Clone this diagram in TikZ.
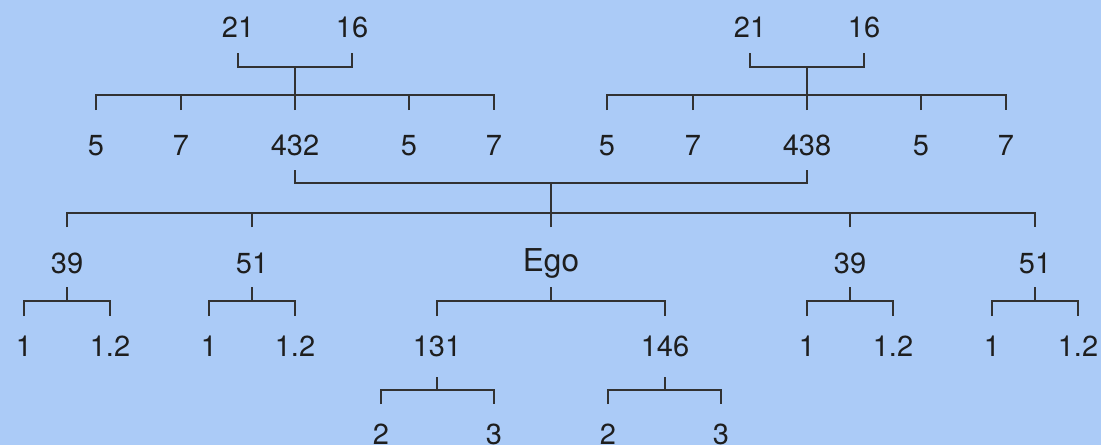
\documentclass[tikz,border=0pt]{standalone}
\usepackage{fontspec}
\setmainfont{TeX Gyre Heros}
\usetikzlibrary{calc}
\definecolor{bg}{RGB}{171,203,247}
\definecolor{ink}{RGB}{30,30,30}
\definecolor{wire}{RGB}{50,50,50}
\begin{document}
\begin{tikzpicture}[x=1pt,y=-1pt,
  lbl/.style={inner sep=0pt,anchor=center,text height=21pt,text depth=0pt,text=ink,font=\fontsize{29}{34}\selectfont},
  big/.style={lbl,text height=23pt,font=\fontsize{31.5}{36}\selectfont},
  wire/.style={draw=wire,line width=1.3pt}]
\fill[bg] (0,0) rectangle (1101,445);
\useasboundingbox (0,0) rectangle (1101,445);
% row 0
\node[lbl] (L21) at (238,27) {21};
\node[lbl] (L16) at (352,27) {16};
\node[lbl] (R21) at (750,27) {21};
\node[lbl] (R16) at (864,27) {16};
% row 1
\node[lbl] (La5) at (96,145) {5};
\node[lbl] (La7) at (181,145) {7};
\node[lbl] (F) at (295,145) {432};
\node[lbl] (Lb5) at (409,145) {5};
\node[lbl] (Lb7) at (494,145) {7};
\node[lbl] (Ra5) at (607,145) {5};
\node[lbl] (Ra7) at (693,145) {7};
\node[lbl] (M) at (807,145) {438};
\node[lbl] (Rb5) at (921,145) {5};
\node[lbl] (Rb7) at (1006,145) {7};
% row 2
\node[lbl] (A39) at (67,263) {39};
\node[lbl] (A51) at (252,263) {51};
\node[big] (Ego) at (551,260) {Ego};
\node[lbl] (B39) at (850,263) {39};
\node[lbl] (B51) at (1035,263) {51};
% row 3
\node[lbl] (A39a) at (24,346) {1};
\node[lbl] (A39b) at (110,346) {1.2};
\node[lbl] (A51a) at (209,346) {1};
\node[lbl] (A51b) at (295,346) {1.2};
\node[lbl] (S131) at (437,346) {131};
\node[lbl] (S146) at (665,346) {146};
\node[lbl] (B39a) at (807,346) {1};
\node[lbl] (B39b) at (893,346) {1.2};
\node[lbl] (B51a) at (992,346) {1};
\node[lbl] (B51b) at (1078,346) {1.2};
% row 4
\node[lbl] (G1) at (381,434) {2};
\node[lbl] (G2) at (494,434) {3};
\node[lbl] (H1) at (608,434) {2};
\node[lbl] (H2) at (721,434) {3};
% parents of 432
\draw[wire] ($(L21)+(0,26)$) |- ($(L16)+(0,40)$) -- ($(L16)+(0,26)$);
\draw[wire] ($(L21)!.5!(L16)+(0,40)$) -- ($(F)+(0,-50)$);
\draw[wire] ($(La5)+(0,-35)$) |- ($(Lb7)+(0,-50)$) -- ($(Lb7)+(0,-35)$);
\foreach \n in {La7,F,Lb5} \draw[wire] ($(\n)+(0,-35)$) -- ($(\n)+(0,-50)$);
% parents of 438
\draw[wire] ($(R21)+(0,26)$) |- ($(R16)+(0,40)$) -- ($(R16)+(0,26)$);
\draw[wire] ($(R21)!.5!(R16)+(0,40)$) -- ($(M)+(0,-50)$);
\draw[wire] ($(Ra5)+(0,-35)$) |- ($(Rb7)+(0,-50)$) -- ($(Rb7)+(0,-35)$);
\foreach \n in {Ra7,M,Rb5} \draw[wire] ($(\n)+(0,-35)$) -- ($(\n)+(0,-50)$);
% marriage 432 - 438
\draw[wire] ($(F)+(0,25)$) |- ($(M)+(0,38)$) -- ($(M)+(0,25)$);
\draw[wire] ($(F)!.5!(M)+(0,38)$) -- ($(A51)!(Ego)!(B39)+(0,-50)$);
\draw[wire] ($(A39)+(0,-36)$) |- ($(B51)+(0,-50)$) -- ($(B51)+(0,-36)$);
\foreach \n in {A51,B39} \draw[wire] ($(\n)+(0,-36)$) -- ($(\n)+(0,-50)$);
\draw[wire] ($(A51)!(Ego)!(B39)+(0,-36)$) -- ($(A51)!(Ego)!(B39)+(0,-50)$);
% row 2 -> row 3
\foreach \p/\a/\b in {A39/A39a/A39b, A51/A51a/A51b, B39/B39a/B39b, B51/B51a/B51b}{
  \draw[wire] ($(\p)+(0,24)$) -- ($(\p)+(0,38)$);
  \draw[wire] ($(\a)+(0,-30)$) |- ($(\b)+(0,-45)$) -- ($(\b)+(0,-30)$);
}
\draw[wire] ($(A51)!(Ego)!(B39)+(0,24)$) -- ($(A51)!(Ego)!(B39)+(0,38)$);
\draw[wire] ($(S131)+(0,-30)$) |- ($(S146)+(0,-45)$) -- ($(S146)+(0,-30)$);
% row 3 -> row 4
\foreach \p/\a/\b in {S131/G1/G2, S146/H1/H2}{
  \draw[wire] ($(\p)+(0,31)$) -- ($(\p)+(0,44)$);
  \draw[wire] ($(\a)+(0,-30)$) |- ($(\b)+(0,-44)$) -- ($(\b)+(0,-30)$);
}
\end{tikzpicture}
\end{document}
